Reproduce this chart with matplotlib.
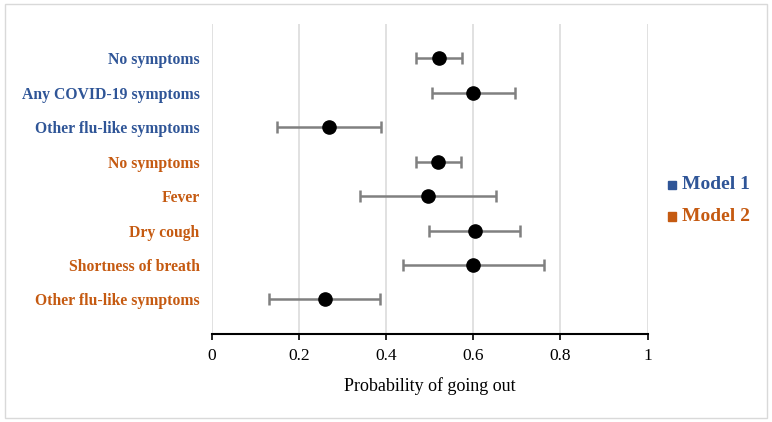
import matplotlib.pyplot as plt
from matplotlib.patches import Rectangle

labels = ["No symptoms", "Any COVID-19 symptoms", "Other flu-like symptoms",
          "No symptoms", "Fever", "Dry cough", "Shortness of breath",
          "Other flu-like symptoms"]
model = [1, 1, 1, 2, 2, 2, 2, 2]
prob = [0.521, 0.600, 0.270, 0.519, 0.496, 0.603, 0.600, 0.260]
lower = [0.468, 0.506, 0.151, 0.468, 0.341, 0.499, 0.438, 0.131]
upper = [0.575, 0.696, 0.388, 0.571, 0.652, 0.707, 0.762, 0.386]

blue = "#2F5597"
orange = "#C55A11"
colors = {1: blue, 2: orange}

plt.rcParams["font.family"] = ["Liberation Serif", "DejaVu Serif"]

fig = plt.figure(figsize=(7.72, 4.22), dpi=100)
ax = fig.add_axes([0.274, 0.209, 0.565, 0.734])

ypos = list(range(1, len(labels) + 1))
xerr = [[p - l for p, l in zip(prob, lower)], [u - p for p, u in zip(prob, upper)]]
ax.errorbar(prob, ypos, xerr=xerr, fmt="o", color="black", markersize=9.5,
            ecolor="#808080", elinewidth=1.8, capsize=4, capthick=1.8, zorder=3)

ax.set_xlim(0, 1)
ax.set_ylim(9, 0)
ax.set_xticks([0, 0.2, 0.4, 0.6, 0.8, 1])
ax.set_xticklabels(["0", "0.2", "0.4", "0.6", "0.8", "1"], fontsize=12.5)
ax.set_yticks(ypos)
ax.set_yticklabels(labels, fontsize=11.3, fontweight="bold")
for t, m in zip(ax.get_yticklabels(), model):
    t.set_color(colors[m])
ax.tick_params(axis="y", length=0, pad=8.5)
ax.tick_params(axis="x", length=4, width=1.2, direction="out", pad=6)
ax.grid(axis="x", color="#dedede", linewidth=1.3)
ax.set_axisbelow(True)
for s in ["top", "right", "left"]:
    ax.spines[s].set_visible(False)
ax.spines["bottom"].set_linewidth(1.5)
ax.set_xlabel("Probability of going out", fontsize=13, labelpad=10)

# legend
for yy, name, c in [(0.562, "Model 1", blue), (0.488, "Model 2", orange)]:
    fig.patches.append(Rectangle((0.865, yy - 0.011), 0.010, 0.021, color=c,
                                 transform=fig.transFigure, figure=fig))
    fig.text(0.884, yy, name, color=c, fontsize=14, fontweight="bold", va="center")

# outer border
fig.patches.append(Rectangle((0.006, 0.01), 0.988, 0.98, fill=False,
                             edgecolor="#d9d9d9", linewidth=1,
                             transform=fig.transFigure, figure=fig))

fig.savefig("out.png", dpi=100)
